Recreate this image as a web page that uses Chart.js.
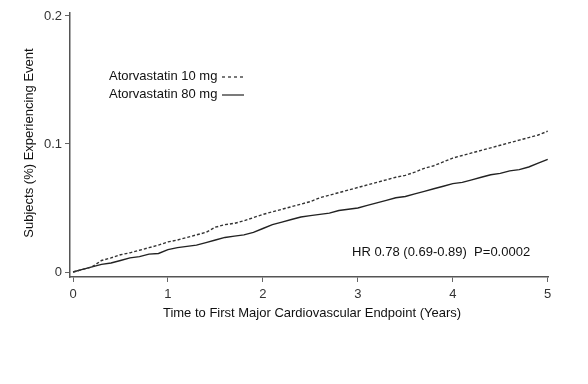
<!DOCTYPE html>
<html>
<head>
<meta charset="utf-8">
<script src="https://cdn.jsdelivr.net/npm/chart.js@4/dist/chart.umd.min.js"></script>
<style>
html,body{margin:0;padding:0;background:#fff;}
#wrap{width:588px;height:384px;position:relative;}
</style>
</head>
<body>
<div id="wrap"><canvas id="c" width="588" height="384"></canvas></div>
<script>
const times = [0,0.1,0.2,0.3,0.4,0.5,0.6,0.7,0.8,0.9,1.0,1.1,1.2,1.3,1.4,1.5,1.6,1.7,1.8,1.9,2.0,2.1,2.2,2.3,2.4,2.5,2.6,2.7,2.8,2.9,3.0,3.1,3.2,3.3,3.4,3.5,3.6,3.7,3.8,3.9,4.0,4.1,4.2,4.3,4.4,4.5,4.6,4.7,4.8,4.9,5.0];
const ator10 = [0,0.002,0.004,0.009,0.011,0.0135,0.015,0.017,0.019,0.021,0.0235,0.025,0.027,0.029,0.031,0.035,0.037,0.038,0.040,0.0425,0.045,0.047,0.049,0.051,0.053,0.055,0.058,0.060,0.062,0.064,0.066,0.068,0.070,0.072,0.074,0.0755,0.078,0.081,0.083,0.086,0.089,0.091,0.093,0.095,0.097,0.099,0.101,0.103,0.105,0.107,0.110];
const ator80 = [0,0.002,0.004,0.006,0.007,0.009,0.011,0.012,0.014,0.0145,0.0175,0.019,0.020,0.021,0.023,0.025,0.027,0.028,0.029,0.031,0.034,0.037,0.039,0.041,0.043,0.044,0.045,0.046,0.048,0.049,0.050,0.052,0.054,0.056,0.058,0.059,0.061,0.063,0.065,0.067,0.069,0.070,0.072,0.074,0.076,0.077,0.079,0.080,0.082,0.085,0.088];
const xTicks = [0,1,2,3,4,5];
const yTicks = [0,0.1,0.2];
const yTickLabels = ['0','0.1','0.2'];
const seriesNames = ['Atorvastatin 10 mg','Atorvastatin 80 mg'];
const xTitle = 'Time to First Major Cardiovascular Endpoint (Years)';
const yTitle = 'Subjects (%) Experiencing Event';
const note = 'HR 0.78 (0.69-0.89)  P=0.0002';

const FONT = '"Liberation Sans", Arial, sans-serif';

const textPlugin = {
  id: 'texts',
  afterDraw(chart) {
    const ctx = chart.ctx;
    ctx.save();
    ctx.fillStyle = '#111';
    ctx.font = '13px ' + FONT;
    ctx.textBaseline = 'middle';
    // x title
    ctx.textAlign = 'center';
    ctx.fillText(xTitle, 312, 313);
    // y title
    ctx.save();
    ctx.translate(29, 143);
    ctx.rotate(-Math.PI / 2);
    ctx.fillText(yTitle, 0, 0);
    ctx.restore();
    // legend
    ctx.textAlign = 'left';
    ctx.fillText(seriesNames[0], 109, 76);
    ctx.fillText(seriesNames[1], 109, 94);
    ctx.strokeStyle = '#222';
    ctx.lineWidth = 1.2;
    ctx.setLineDash([3, 3]);
    ctx.beginPath(); ctx.moveTo(222, 77); ctx.lineTo(244, 77); ctx.stroke();
    ctx.setLineDash([]);
    ctx.beginPath(); ctx.moveTo(222, 95); ctx.lineTo(244, 95); ctx.stroke();
    // note
    ctx.fillText(note, 352, 252);
    ctx.restore();
  }
};

new Chart(document.getElementById('c'), {
  type: 'line',
  data: {
    datasets: [
      {
        label: seriesNames[0],
        data: times.map((t, i) => ({x: t, y: ator10[i]})),
        borderColor: '#333',
        borderWidth: 1.4,
        borderDash: [3, 2],
        pointRadius: 0,
        fill: false,
        tension: 0
      },
      {
        label: seriesNames[1],
        data: times.map((t, i) => ({x: t, y: ator80[i]})),
        borderColor: '#222',
        borderWidth: 1.4,
        pointRadius: 0,
        fill: false,
        tension: 0
      }
    ]
  },
  options: {
    responsive: false,
    animation: false,
    devicePixelRatio: 1,
    layout: {padding: {top: 13, right: 40, left: 0, bottom: 0}},
    plugins: {legend: {display: false}, tooltip: {enabled: false}},
    scales: {
      x: {
        type: 'linear',
        min: -0.032,
        max: 5.003,
        afterFit(s) { s.height = 107; },
        afterBuildTicks(s) { s.ticks = xTicks.map(v => ({value: v})); },
        grid: {drawOnChartArea: false, drawTicks: true, tickLength: 5, color: '#666', lineWidth: 1},
        border: {display: true, color: '#555', width: 1.5},
        ticks: {color: '#333', font: {family: FONT, size: 13}, padding: 5, callback: v => String(v)}
      },
      y: {
        type: 'linear',
        min: -0.0039,
        max: 0.2023,
        afterFit(s) { s.width = 70; },
        afterBuildTicks(s) { s.ticks = yTicks.map(v => ({value: v})); },
        grid: {drawOnChartArea: false, drawTicks: true, tickLength: 5, color: '#666', lineWidth: 1},
        border: {display: true, color: '#555', width: 1.5},
        ticks: {color: '#333', font: {family: FONT, size: 13}, padding: 3,
          callback: (v) => yTickLabels[yTicks.indexOf(v)] ?? ''}
      }
    }
  },
  plugins: [textPlugin]
});
</script>
</body>
</html>
